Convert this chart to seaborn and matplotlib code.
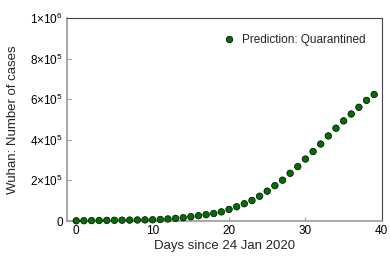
import numpy as np
import pandas as pd
import matplotlib
matplotlib.use("Agg")
import matplotlib.pyplot as plt
import seaborn as sns
from matplotlib.ticker import FixedLocator

# === Data ===
days = list(range(40))
cases = [1000, 1500, 2000, 2500, 3000, 3500, 4000, 4500, 5000, 5500,
         6000, 7500, 10000, 13000, 16000, 21000, 26000, 31000, 37000, 45000,
         57000, 70000, 85000, 101000, 122000, 147000, 174000, 201000, 235000, 268000,
         305000, 342000, 379000, 419000, 457000, 493000, 527000, 560000, 594000, 623000]
series_name = "Prediction: Quarantined"
x_ticks = [0, 10, 20, 30, 40]
y_ticks = [0, 2e5, 4e5, 6e5, 8e5, 1e6]
y_tick_labels = ["0", r"2$\times$10$^5$", r"4$\times$10$^5$", r"6$\times$10$^5$",
                 r"8$\times$10$^5$", r"1$\times$10$^6$"]

df = pd.DataFrame({"day": days, "cases": cases, "series": series_name})

sns.set_style("ticks")
plt.rcParams["font.family"] = ["Liberation Sans", "DejaVu Sans"]
plt.rcParams["mathtext.fontset"] = "custom"
plt.rcParams["mathtext.rm"] = "Liberation Sans"

fig = plt.figure(figsize=(3.9, 2.6), dpi=100)
ax = fig.add_axes([0.172, 0.15, 0.807, 0.781])

sns.scatterplot(data=df, x="day", y="cases", hue="series", palette=["#007000"],
                s=22, edgecolor="black", linewidth=0.5, ax=ax, clip_on=False, zorder=3)

ax.set_xlim(-1.2, 40)
ax.set_ylim(0, 1e6)
ax.xaxis.set_major_locator(FixedLocator(x_ticks))
ax.set_yticks(y_ticks)
ax.set_yticklabels(y_tick_labels)
ax.tick_params(direction="in", length=3, width=0.6, labelsize=8.5, colors="#888888",
               labelcolor="black", pad=3)

for side in ["left", "bottom"]:
    ax.spines[side].set_color("#9a9a9a")
    ax.spines[side].set_linewidth(1.2)
for side in ["top", "right"]:
    ax.spines[side].set_visible(True)
    ax.spines[side].set_color("#444444")
    ax.spines[side].set_linewidth(0.8)

ax.set_xlabel("Days since 24 Jan 2020", fontsize=9.5, labelpad=2)
ax.set_ylabel("Wuhan: Number of cases", fontsize=9.5, labelpad=8)

leg = ax.legend(loc="upper right", frameon=False, fontsize=8.5, handletextpad=0.3,
                handlelength=1.5, borderaxespad=1.0, borderpad=0.4)

fig.savefig("out.png", dpi=100)
